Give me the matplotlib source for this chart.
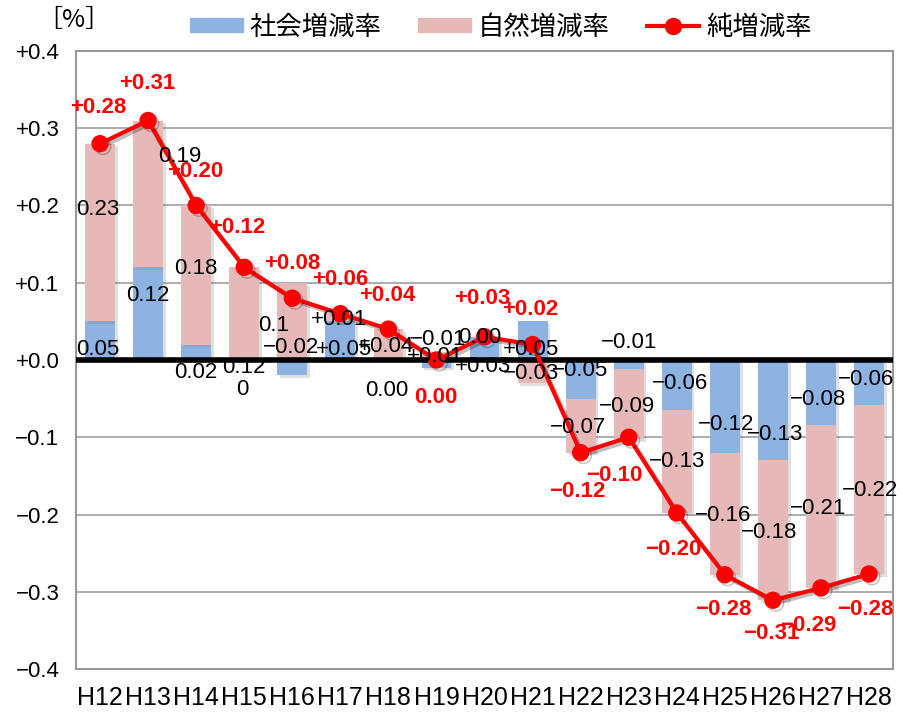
import matplotlib
matplotlib.use("Agg")
import matplotlib.pyplot as plt
import matplotlib.patheffects as pe
from matplotlib.lines import Line2D
from matplotlib.patches import Patch
import numpy as np

plt.rcParams['font.family'] = ['Liberation Sans', 'Noto Sans CJK JP', 'DejaVu Sans']
CJK = ['Noto Sans CJK JP', 'DejaVu Sans']

years = ["H12", "H13", "H14", "H15", "H16", "H17", "H18", "H19", "H20",
         "H21", "H22", "H23", "H24", "H25", "H26", "H27", "H28"]
social = [0.05, 0.12, 0.02, 0.00, -0.02, 0.05, 0.00, -0.01, 0.03,
          0.05, -0.05, -0.012, -0.065, -0.12, -0.13, -0.084, -0.058]
natural = [0.23, 0.19, 0.18, 0.12, 0.10, 0.01, 0.04, 0.01, 0.00,
           -0.03, -0.07, -0.09, -0.133, -0.158, -0.181, -0.211, -0.219]
net = [0.28, 0.31, 0.20, 0.12, 0.08, 0.06, 0.04, 0.00, 0.03,
       0.02, -0.12, -0.10, -0.198, -0.278, -0.311, -0.295, -0.277]

social_lbl = ["0.05", "0.12", "0.02", "0", "−0.02", "+0.05", "0.00", "−0.01", "+0.03",
              "+0.05", "−0.05", "−0.01", "−0.06", "−0.12", "−0.13", "−0.08", "−0.06"]
natural_lbl = ["0.23", "0.19", "0.18", "0.12", "0.1", "+0.01", "+0.04", "+0.01", "0.00",
               "−0.03", "−0.07", "−0.09", "−0.13", "−0.16", "−0.18", "−0.21", "−0.22"]
net_lbl = ["+0.28", "+0.31", "+0.20", "+0.12", "+0.08", "+0.06", "+0.04", "0.00", "+0.03",
           "+0.02", "−0.12", "−0.10", "−0.20", "−0.28", "−0.31", "−0.29", "−0.28"]

yticks = [0.4, 0.3, 0.2, 0.1, 0.0, -0.1, -0.2, -0.3, -0.4]
ytick_lbl = ["+0.4", "+0.3", "+0.2", "+0.1", "+0.0", "−0.1", "−0.2", "−0.3", "−0.4"]
legend_lbl = ["社会増減率", "自然増減率", "純増減率"]
unit_lbl = "［%］"

# label placement (x offset in category units, y in data units)
social_pos_dx = [-0.04, -0.01, -0.01, -0.04, -0.03, 0.07, -0.04, 0.04, -0.03,
                 -0.04, -0.02, 0.01, 0.07, 0.02, 0.04, -0.07, -0.06]
social_pos_y = [0.013, 0.084, -0.016, -0.038, 0.016, 0.014, -0.039, 0.027, -0.009,
                0.014, -0.013, 0.022, -0.030, -0.084, -0.096, -0.051, -0.025]
natural_pos_dx = [-0.04, 0.66, -0.01, 0.0, -0.38, -0.03, -0.06, -0.02, -0.09,
                  -0.04, -0.06, -0.03, 0.01, -0.04, -0.08, -0.05, 0.02]
natural_pos_y = [0.195, 0.263, 0.119, -0.010, 0.045, 0.053, 0.018, 0.005, 0.029,
                 -0.018, -0.087, -0.060, -0.132, -0.201, -0.223, -0.192, -0.169]
net_pos_dx = [-0.04, -0.01, -0.01, -0.14, 0.0, -0.01, -0.02, -0.02, -0.05,
              -0.04, -0.08, -0.30, -0.08, -0.04, -0.03, -0.26, -0.08]
net_pos_y = [0.327, 0.358, 0.244, 0.171, 0.125, 0.104, 0.083, -0.048, 0.079,
             0.066, -0.170, -0.150, -0.245, -0.323, -0.354, -0.344, -0.323]

BLUE = "#8DB3E2"
PINK = "#E6B9B8"
RED = "#FF0000"

fig = plt.figure(figsize=(9.04, 7.21), dpi=100)
ax = fig.add_axes([0.0841, 0.0721, 0.9038, 0.8572])

x = np.arange(len(years))
social_a = np.array(social)
natural_a = np.array(natural)
s_bottom = np.zeros(len(years))
n_bottom = np.where(np.sign(natural_a) == np.sign(social_a), social_a, 0.0)

shadow = [pe.SimplePatchShadow(offset=(2, -2), alpha=0.25, shadow_rgbFace="gray"), pe.Normal()]
w = 0.62
b1 = ax.bar(x, social_a, w, bottom=s_bottom, color=BLUE, zorder=2)
b2 = ax.bar(x, natural_a, w, bottom=n_bottom, color=PINK, zorder=2)
for r in list(b1) + list(b2):
    r.set_path_effects(shadow)

ax.axhline(0, color="black", lw=4, zorder=3)

ln, = ax.plot(x, net, color=RED, lw=3, marker="o", markersize=11.5, zorder=5)
ln.set_path_effects([pe.SimpleLineShadow(offset=(2, -2), alpha=0.25), pe.Normal()])

for i in range(len(years)):
    ax.text(x[i] + social_pos_dx[i], social_pos_y[i], social_lbl[i], ha="center", va="center",
            fontsize=16, color="black", zorder=6)
    ax.text(x[i] + natural_pos_dx[i], natural_pos_y[i], natural_lbl[i], ha="center", va="center",
            fontsize=16, color="black", zorder=6)
    ax.text(x[i] + net_pos_dx[i], net_pos_y[i], net_lbl[i], ha="center", va="center",
            fontsize=16, color=RED, fontweight="bold", zorder=7)

ax.set_xlim(-0.5, len(years) - 0.5)
ax.set_ylim(-0.4, 0.4)
ax.set_yticks(yticks)
ax.set_yticklabels(ytick_lbl, fontsize=16)
ax.set_xticks(x)
ax.set_xticklabels(years, fontsize=18)
ax.tick_params(axis="both", length=0)
ax.tick_params(axis="y", pad=12)
ax.tick_params(axis="x", pad=12)
ax.yaxis.grid(True, color="#A6A6A6", lw=1.3, zorder=0)
ax.set_axisbelow(True)
for sp in ax.spines.values():
    sp.set_color("#999999")
    sp.set_linewidth(1.5)

fig.text(0.082, 0.972, unit_lbl, fontsize=18, ha="center", va="center", family=CJK)

handles = [Patch(color=BLUE), Patch(color=PINK),
           Line2D([], [], color=RED, lw=3, marker="o", markersize=11.5)]
fig.legend(handles, legend_lbl, loc="center",
           bbox_to_anchor=(0.554, 0.9625), ncol=3, frameon=False,
           prop={"family": CJK, "size": 19},
           handlelength=2.0, handleheight=0.45, handletextpad=0.25, columnspacing=1.4)

fig.savefig("out.png", dpi=100)
